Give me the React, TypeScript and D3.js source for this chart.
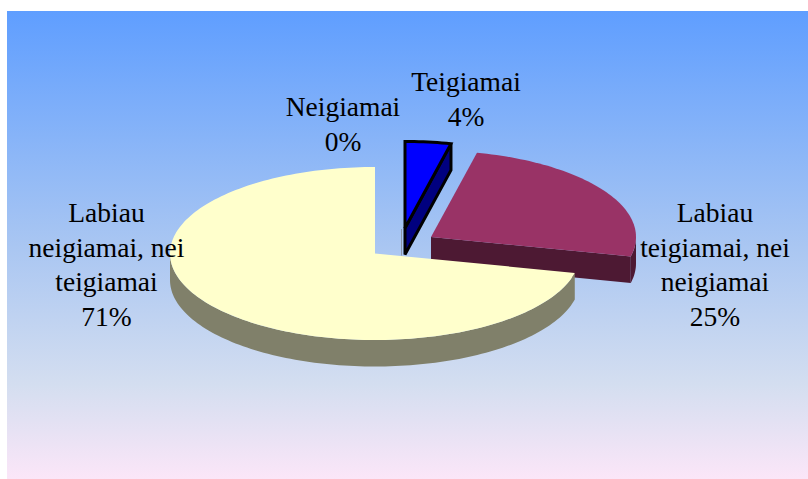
import React from "react";
import * as d3 from "d3";

const categories = ["Teigiamai", "Labiau teigiamai, nei neigiamai", "Labiau neigiamai, nei teigiamai", "Neigiamai"];
const values = [3.6, 25, 71.4, 0];
const topColors = ["#0000ff", "#993366", "#ffffcc", "#cccccc"];
const sideColors = ["#00007f", "#4d1933", "#80806a", "#888888"];
const apexes: [number, number][] = [[405, 228], [431, 237], [375, 253.5], [401.5, 229]];
const labelLines = [
  { x: 466, y: 91, lines: ["Teigiamai", "4%"] },
  { x: 715, y: 222, lines: ["Labiau", "teigiamai, nei", "neigiamai", "25%"] },
  { x: 106.5, y: 222, lines: ["Labiau", "neigiamai, nei", "teigiamai", "71%"] },
  { x: 343, y: 116, lines: ["Neigiamai", "0%"] },
];

const W = 808, H = 479, RX = 205, RY = 86.5, DEPTH = 26.5, LINE = 34.7;

const pie = d3.pie<number>().sort(null).value((d) => d);
const arcs = pie(values);
const line = d3.line<[number, number]>();

const pt = (c: [number, number], a: number, dy = 0): [number, number] => [
  c[0] + RX * Math.sin(a),
  c[1] - RY * Math.cos(a) + dy,
];
const arcPts = (c: [number, number], a0: number, a1: number, dy = 0) => {
  const n = Math.max(2, Math.ceil(Math.abs(a1 - a0) * 40));
  return d3.range(n + 1).map((i) => pt(c, a0 + ((a1 - a0) * i) / n, dy));
};

function Slice({ i }: { i: number }) {
  const c = apexes[i];
  const { startAngle: a0, endAngle: a1 } = arcs[i];
  const top = (line([c, ...arcPts(c, a0, a1)]) ?? "") + "Z";
  const walls: string[] = [];
  const v0 = Math.max(a0, Math.PI / 2), v1 = Math.min(a1, (3 * Math.PI) / 2);
  if (v1 > v0) walls.push((line([...arcPts(c, v0, v1), ...arcPts(c, v1, v0, DEPTH)]) ?? "") + "Z");
  if (i === 0 || i === 1) {
    const e = pt(c, a1);
    walls.push((line([c, e, [e[0], e[1] + DEPTH], [c[0], c[1] + DEPTH]]) ?? "") + "Z");
  }
  const stroke = i === 0 ? "#000" : "none";
  const sw = i === 0 ? 3 : 0;
  return (
    <g>
      {walls.map((d, k) => (
        <path key={k} d={d} fill={sideColors[i]} stroke={stroke} strokeWidth={sw} strokeLinejoin="miter" />
      ))}
      <path d={top} fill={topColors[i]} stroke={stroke} strokeWidth={sw} strokeLinejoin="miter" />
    </g>
  );
}

export default function App() {
  const sl = apexes[3];
  return (
    <svg width={W} height={H} style={{ position: "absolute", left: 0, top: 0, background: "#fff" }}>
      <defs>
        <linearGradient id="bg" x1="0" y1="0" x2="0" y2="1">
          <stop offset="0" stopColor="#5f9eff" />
          <stop offset="0.5" stopColor="#a9c6f2" />
          <stop offset="0.8" stopColor="#d4def0" />
          <stop offset="1" stopColor="#fbe6f8" />
        </linearGradient>
      </defs>
      <rect x={7} y={11} width={801} height={468} fill="url(#bg)" />
      <line x1={sl[0]} x2={sl[0]} y1={sl[1]} y2={sl[1] + DEPTH} stroke="#8a96a8" strokeWidth={1} aria-label={categories[3]} />
      <Slice i={0} />
      <Slice i={1} />
      <Slice i={2} />
      {labelLines.map((l, i) => (
        <text key={i} textAnchor="middle" fontFamily="'Liberation Serif'" fontSize={27.5} fill="#000">
          {l.lines.map((t, k) => (
            <tspan key={k} x={l.x} y={l.y + k * LINE}>{t}</tspan>
          ))}
        </text>
      ))}
    </svg>
  );
}
